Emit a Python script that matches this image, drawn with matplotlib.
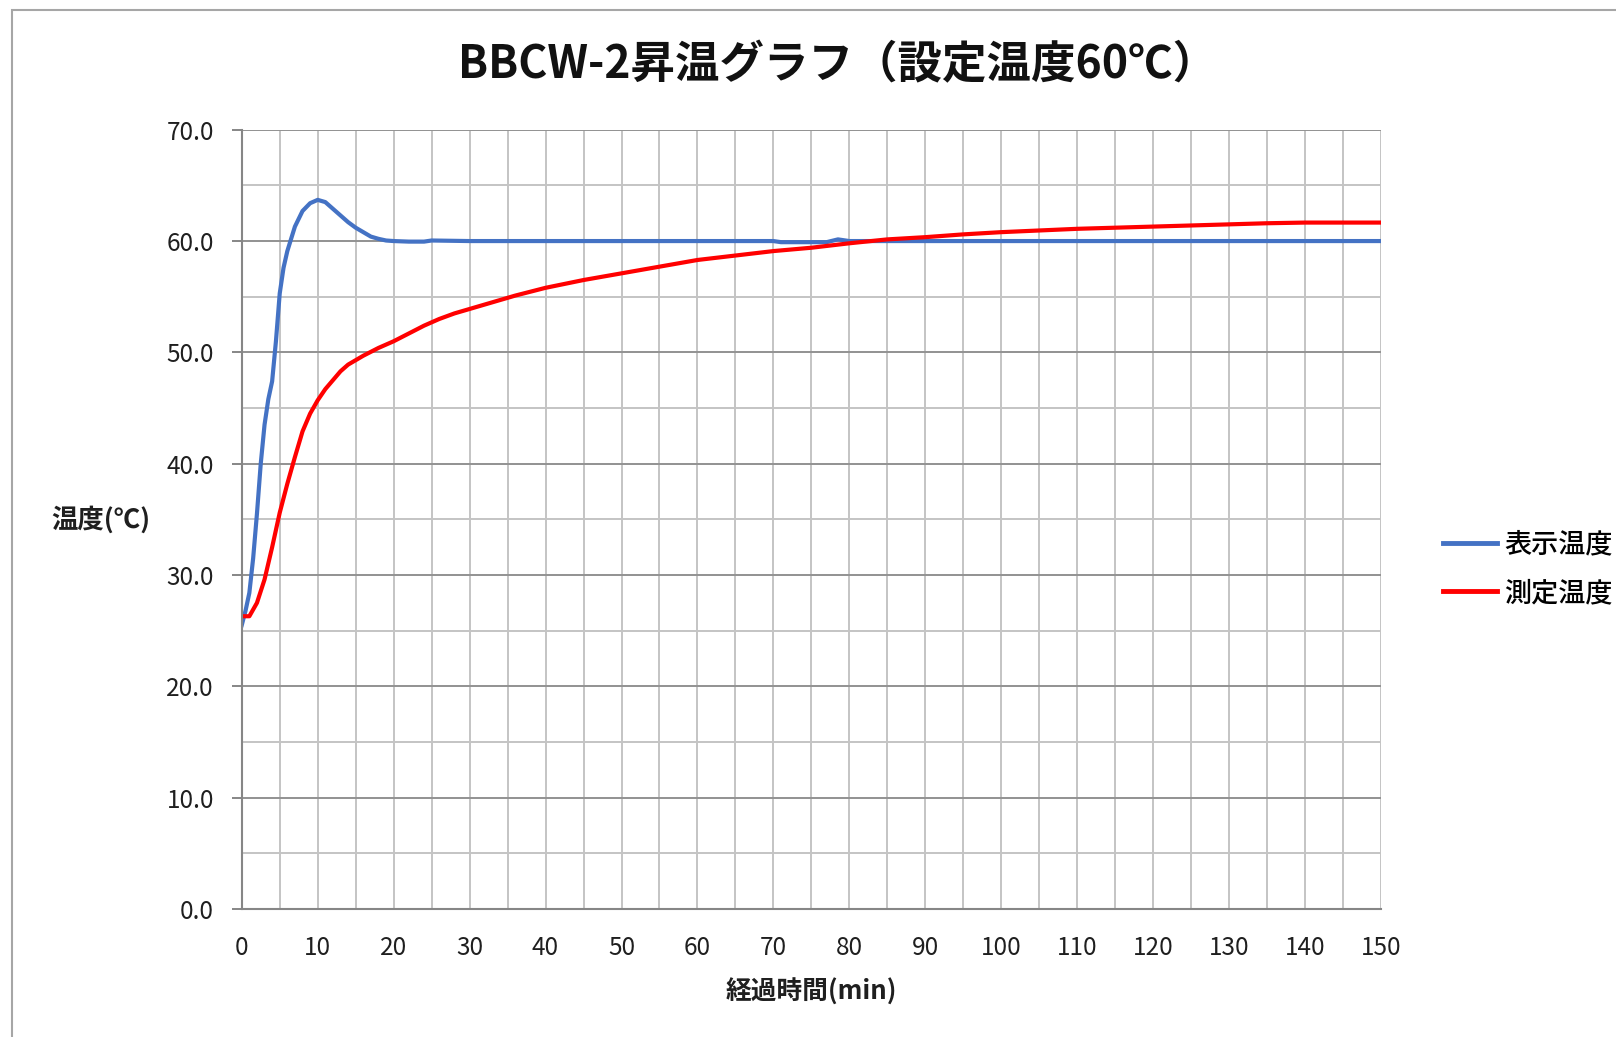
import matplotlib
matplotlib.use("Agg")
import matplotlib.pyplot as plt
from matplotlib.patches import Rectangle
from matplotlib.ticker import MultipleLocator, FormatStrFormatter

plt.rcParams['font.family'] = ['Noto Sans CJK JP', 'DejaVu Sans']

# 表示温度 (controller display)
disp_t = [0, 0.5, 1, 1.5, 2, 2.5, 3, 3.5, 4, 4.5, 5, 5.5, 6, 7, 8, 9, 10, 11, 12,
          13, 14, 15, 16, 17, 18, 19, 20, 22, 24, 25, 30, 40, 50, 60, 70, 71, 77,
          78.5, 80, 90, 100, 110, 120, 130, 140, 150]
disp_temp = [25.5, 26.8, 28.4, 31.5, 35.5, 40.0, 43.5, 45.8, 47.4, 51.0, 55.3, 57.6,
             59.1, 61.3, 62.7, 63.4, 63.7, 63.5, 62.9, 62.3, 61.7, 61.2, 60.8, 60.4,
             60.2, 60.05, 60.0, 59.95, 59.95, 60.05, 60.0, 60.0, 60.0, 60.0, 60.0,
             59.9, 59.9, 60.15, 60.0, 60.0, 60.0, 60.0, 60.0, 60.0, 60.0, 60.0]

# 測定温度 (measured)
meas_t = [0, 1, 2, 3, 4, 5, 6, 7, 8, 9, 10, 11, 12, 13, 14, 16, 18, 20, 22, 24, 26,
          28, 30, 33, 36, 40, 45, 50, 55, 60, 65, 70, 75, 80, 85, 90, 95, 100, 105,
          110, 115, 120, 125, 130, 135, 140, 145, 150]
meas_temp = [26.3, 26.3, 27.5, 29.6, 32.5, 35.6, 38.2, 40.6, 42.9, 44.5, 45.7, 46.7,
             47.5, 48.3, 48.9, 49.7, 50.4, 51.0, 51.7, 52.4, 53.0, 53.5, 53.9, 54.5,
             55.1, 55.8, 56.5, 57.1, 57.7, 58.3, 58.7, 59.1, 59.4, 59.8, 60.15, 60.35,
             60.6, 60.8, 60.95, 61.1, 61.2, 61.3, 61.4, 61.5, 61.6, 61.66, 61.66, 61.66]

title = 'BBCW-2昇温グラフ（設定温度60℃）'
series_names = ['表示温度', '測定温度']

fig = plt.figure(figsize=(16.16, 10.37), dpi=100)
ax = fig.add_axes([0.1496, 0.1234, 0.7050, 0.7515])

# chart frame (left and top edge only)
fig.add_artist(Rectangle((12 / 1616, -0.1), 1.2, 1.1 - 10 / 1037,
                         transform=fig.transFigure, fill=False,
                         edgecolor='#a6a6a6', lw=1.5, clip_on=False))

ax.plot(disp_t, disp_temp, color='#4472C4', lw=3.0, label=series_names[0],
        solid_joinstyle='round')
ax.plot(meas_t, meas_temp, color='#FF0000', lw=3.0, label=series_names[1],
        solid_joinstyle='round')

ax.set_xlim(0, 150)
ax.set_ylim(0, 70)
ax.xaxis.set_major_locator(MultipleLocator(10))
ax.xaxis.set_minor_locator(MultipleLocator(5))
ax.yaxis.set_major_locator(MultipleLocator(10))
ax.yaxis.set_minor_locator(MultipleLocator(5))
ax.yaxis.set_major_formatter(FormatStrFormatter('%.1f'))

ax.set_axisbelow(True)
ax.grid(axis='x', which='both', color='#c4c4c4', lw=1.4)
ax.grid(axis='y', which='major', color='#929292', lw=1.4)
ax.grid(axis='y', which='minor', color='#c4c4c4', lw=1.4)

for side in ['top', 'right']:
    ax.spines[side].set_visible(False)
for side in ['left', 'bottom']:
    ax.spines[side].set_color('#868686')
    ax.spines[side].set_linewidth(1.5)

ax.tick_params(axis='y', which='major', direction='out', length=7, width=1.4,
               color='#868686', pad=13, labelsize=17.5, labelcolor='#1f1f1f')
ax.tick_params(axis='x', which='major', length=0, pad=19, labelsize=17.5,
               labelcolor='#1f1f1f')
ax.tick_params(which='minor', length=0)

ax.set_xlabel('経過時間(min)', fontsize=18.5, fontweight='bold', color='#1f1f1f')
ax.xaxis.set_label_coords(0.5, -0.107)
ax.xaxis.label.set_va('center')
ax.set_ylabel('温度(℃)', fontsize=19, fontweight='bold', color='#1f1f1f',
              rotation=0, ha='center', va='center')
ax.yaxis.set_label_coords(-0.1235, 0.499)

fig.text(0.518, 0.937, title, fontsize=32, fontweight='bold', color='#111111',
         ha='center', va='center')

fig.legend(loc='center left', bbox_to_anchor=(0.893, 0.4513), frameon=False,
           handlelength=2.0, handletextpad=0.25, labelspacing=0.8,
           borderpad=0, borderaxespad=0, prop={'weight': 'medium', 'size': 19.5})
for line in fig.legends[0].get_lines():
    line.set_linewidth(3.5)

fig.savefig('out.png', dpi=100)
